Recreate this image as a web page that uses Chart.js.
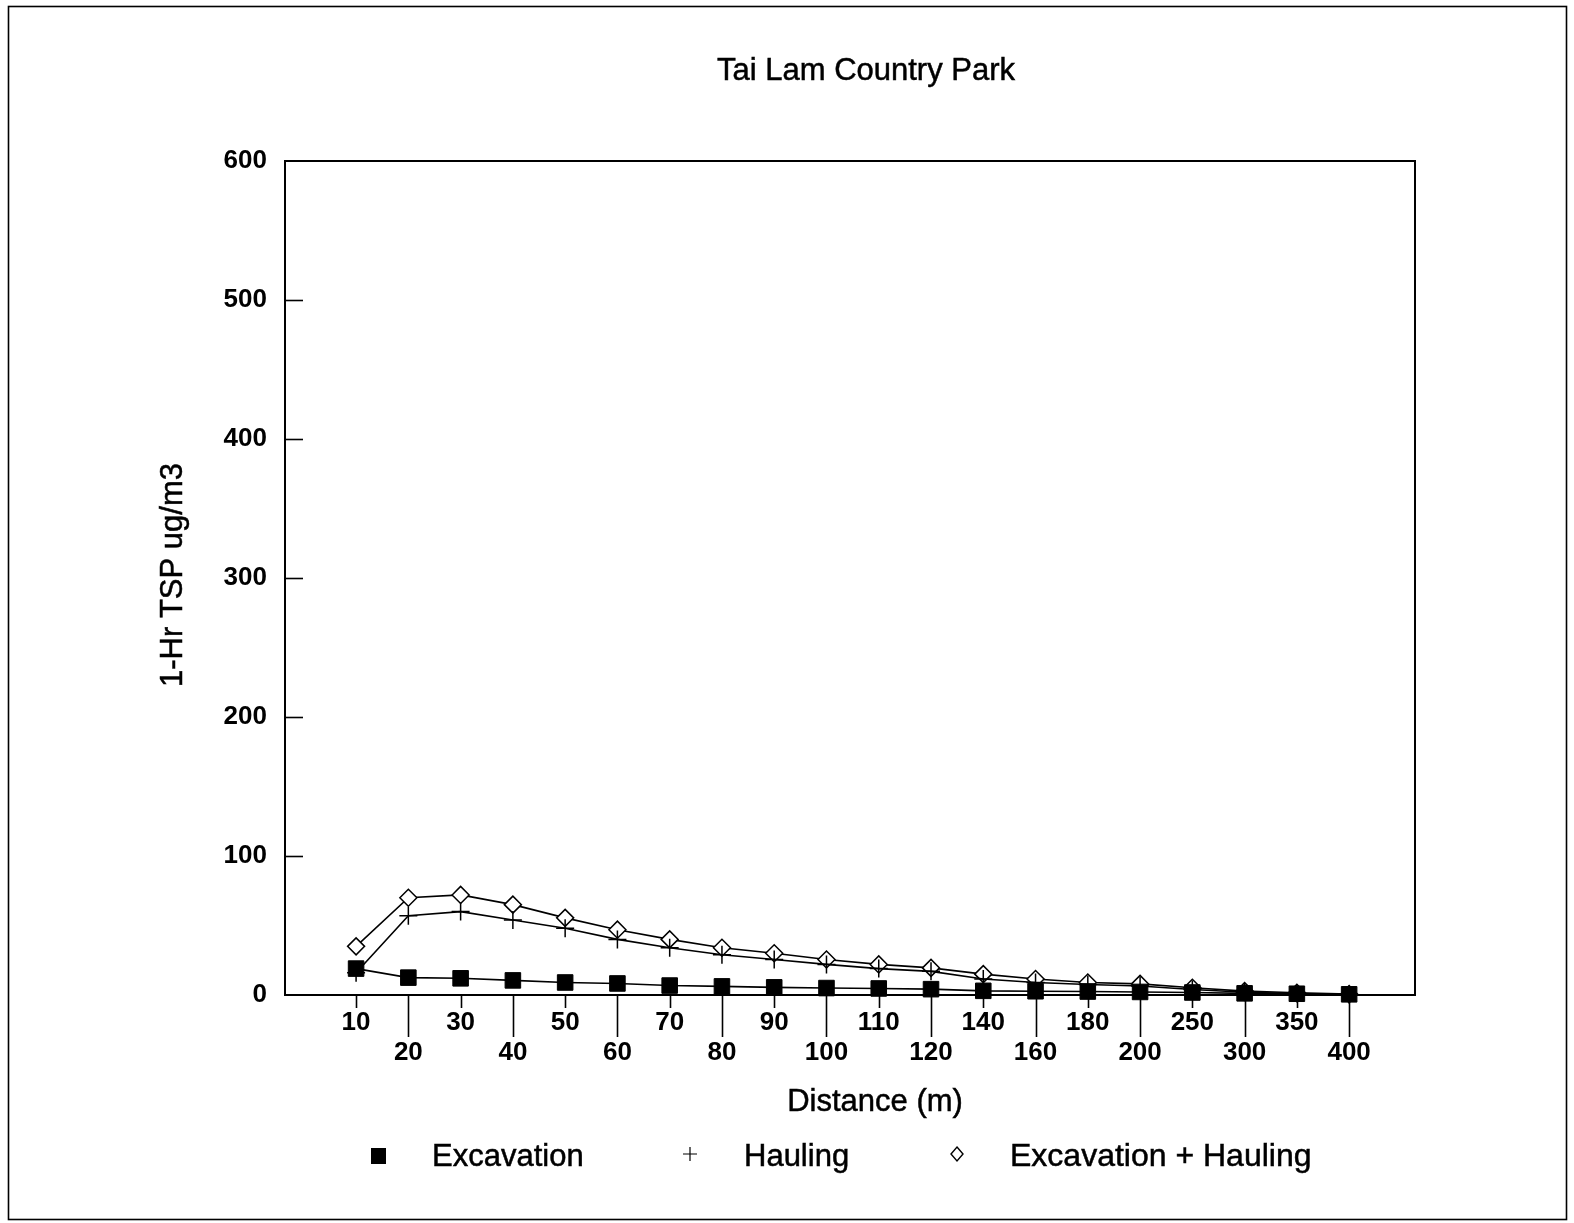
<!DOCTYPE html>
<html>
<head>
<meta charset="utf-8">
<title>Tai Lam Country Park</title>
<script src="https://cdn.jsdelivr.net/npm/chart.js@4/dist/chart.umd.min.js"></script>
<style>
  html, body { margin: 0; padding: 0; background: #fff; }
  #wrap { width: 1574px; height: 1223px; position: relative; }
</style>
</head>
<body>
<div id="wrap"><canvas id="c" width="1574" height="1223"></canvas></div>
<script>
// Receptor distances (m) and predicted 1-hour TSP concentrations (ug/m3)
const distances = [10, 20, 30, 40, 50, 60, 70, 80, 90, 100, 110, 120, 140, 160, 180, 200, 250, 300, 350, 400];
const excavation = [19, 12.5, 12, 10.5, 9, 8.3, 6.8, 6.2, 5.5, 5, 4.7, 4.2, 3, 2.7, 2.5, 2.2, 1.8, 1.2, 0.9, 0.5];
const hauling = [16, 57, 60, 54, 48, 40, 34, 29, 25.5, 22, 19, 17, 11.5, 9, 7.5, 6.5, 4, 2, 1, 0.4];
const combined = [35, 70, 72, 65, 55.5, 47, 40, 34, 30, 25.5, 22, 19.5, 15, 11.5, 9, 8, 5.2, 2.8, 1.6, 0.6];
const yTickValues = [0, 100, 200, 300, 400, 500, 600];
const seriesNames = ['Excavation', 'Hauling', 'Excavation + Hauling'];
const chartTitle = 'Tai Lam Country Park';
const xAxisTitle = 'Distance (m)';
const yAxisTitle = '1-Hr TSP ug/m3';

const FONT = '"Liberation Sans", Arial, Helvetica, sans-serif';
const INK = '#000';

// Category positions are plotted as indices on a linear axis
const toPoints = (vals) => vals.map((v, i) => ({ x: i, y: v }));

// Text with a light outline so it reads a little heavier than regular weight
function heavyText(ctx, text, x, y) {
  ctx.fillText(text, x, y);
  ctx.strokeText(text, x, y);
}

const decorations = {
  id: 'decorations',
  beforeDatasetsDraw(chart) {
    const { ctx, chartArea: a, scales } = chart;
    ctx.save();
    ctx.strokeStyle = INK;
    ctx.lineWidth = 2;
    // plot frame
    ctx.strokeRect(a.left, a.top, a.right - a.left, a.bottom - a.top);
    // inward ticks on the value axis
    ctx.lineWidth = 1.6;
    yTickValues.forEach(v => {
      if (v === 0 || v === 600) return;
      const y = Math.round(scales.y.getPixelForValue(v)) + 0.5;
      ctx.beginPath();
      ctx.moveTo(a.left, y);
      ctx.lineTo(a.left + 18, y);
      ctx.stroke();
    });
    // staggered ticks below the distance axis
    distances.forEach((d, i) => {
      const x = Math.round(scales.x.getPixelForValue(i)) + 0.5;
      const len = i % 2 === 0 ? 13 : 42;
      ctx.beginPath();
      ctx.moveTo(x, a.bottom);
      ctx.lineTo(x, a.bottom + len);
      ctx.stroke();
    });
    ctx.restore();
  },
  afterDraw(chart) {
    const { ctx } = chart;
    ctx.save();
    // outer page frame
    ctx.strokeStyle = INK;
    ctx.lineWidth = 1.6;
    ctx.strokeRect(8.5, 6.5, 1558, 1213);

    ctx.fillStyle = INK;
    ctx.lineWidth = 0.5;
    ctx.font = '31px ' + FONT;
    ctx.textBaseline = 'middle';
    ctx.textAlign = 'center';
    heavyText(ctx, chartTitle, 866, 71);
    heavyText(ctx, xAxisTitle, 875, 1102);

    ctx.save();
    ctx.translate(173, 575);
    ctx.rotate(-Math.PI / 2);
    heavyText(ctx, yAxisTitle, 0, 0);
    ctx.restore();

    // legend
    const ds = chart.data.datasets;
    ctx.textAlign = 'left';
    const ly = 1157;
    // square
    ctx.fillRect(378 - 7, ly - 9, 15, 16);
    heavyText(ctx, ds[0].label, 432, ly);
    // plus
    ctx.lineWidth = 1.2;
    ctx.beginPath();
    ctx.moveTo(683, ly - 3); ctx.lineTo(697, ly - 3);
    ctx.moveTo(690, ly - 10); ctx.lineTo(690, ly + 4);
    ctx.stroke();
    ctx.lineWidth = 0.5;
    heavyText(ctx, ds[1].label, 744, ly);
    // diamond
    ctx.lineWidth = 1.4;
    ctx.beginPath();
    ctx.moveTo(957, ly - 10);
    ctx.lineTo(963, ly - 3);
    ctx.lineTo(957, ly + 4);
    ctx.lineTo(951, ly - 3);
    ctx.closePath();
    ctx.stroke();
    ctx.lineWidth = 0.5;
    ctx.font = '32px ' + FONT;
    heavyText(ctx, ds[2].label, 1010, ly);
    ctx.restore();
  }
};

new Chart(document.getElementById('c'), {
  type: 'line',
  data: {
    datasets: [
      {
        label: seriesNames[0],
        data: toPoints(excavation),
        borderColor: INK,
        backgroundColor: INK,
        borderWidth: 1.6,
        pointStyle: 'rect',
        pointRadius: 11,
        pointBorderWidth: 1,
        pointBackgroundColor: INK,
        pointBorderColor: INK,
        tension: 0,
        clip: false
      },
      {
        label: seriesNames[1],
        data: toPoints(hauling),
        borderColor: INK,
        backgroundColor: INK,
        borderWidth: 1.6,
        pointStyle: 'cross',
        pointRadius: 9,
        pointBorderWidth: 1.5,
        pointBorderColor: INK,
        tension: 0,
        clip: false
      },
      {
        label: seriesNames[2],
        data: toPoints(combined),
        borderColor: INK,
        backgroundColor: '#fff',
        borderWidth: 1.6,
        pointStyle: 'rectRot',
        pointRadius: 8.5,
        pointBorderWidth: 1.5,
        pointBackgroundColor: '#fff',
        pointBorderColor: INK,
        tension: 0,
        clip: false
      }
    ]
  },
  options: {
    responsive: false,
    animation: false,
    devicePixelRatio: 1,
    layout: { padding: { left: 0, top: 161, right: 159, bottom: 0 } },
    plugins: {
      legend: { display: false },
      title: { display: false },
      tooltip: { enabled: false }
    },
    scales: {
      x: {
        type: 'linear',
        position: 'bottom',
        min: -1.36,
        max: 20.26,
        afterBuildTicks: (s) => { s.ticks = distances.map((d, i) => ({ value: i })); },
        afterFit: (s) => { s.height = 228; },
        grid: { display: false, drawTicks: false },
        border: { display: false },
        ticks: {
          autoSkip: false,
          maxRotation: 0,
          minRotation: 0,
          padding: 13,
          color: INK,
          font: { family: FONT, size: 26, weight: 'bold', lineHeight: 1.15 },
          callback: (v) => {
            const i = Math.round(v);
            const lbl = String(distances[i]);
            return i % 2 === 0 ? [lbl] : ['', lbl];
          }
        }
      },
      y: {
        type: 'linear',
        min: 0,
        max: 600,
        afterBuildTicks: (s) => { s.ticks = yTickValues.map(v => ({ value: v })); },
        afterFit: (s) => { s.width = 285; },
        grid: { display: false, drawTicks: false },
        border: { display: false },
        ticks: {
          padding: 18,
          color: INK,
          font: { family: FONT, size: 26, weight: 'bold' }
        }
      }
    }
  },
  plugins: [decorations]
});
</script>
</body>
</html>
